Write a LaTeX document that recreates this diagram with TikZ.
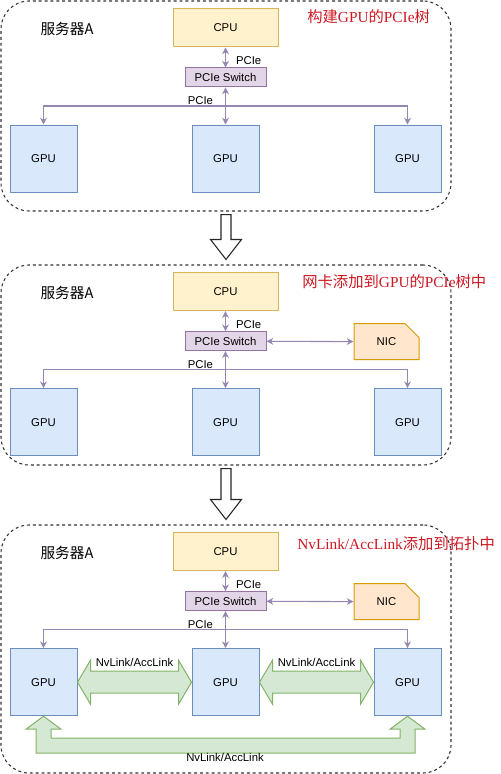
\documentclass[tikz,border=0pt]{standalone}
\usepackage{fontspec}
\setmainfont{Liberation Sans}
\newfontfamily\cjk{Noto Sans CJK SC}
\newfontfamily\titleserif{Liberation Serif}
\usetikzlibrary{positioning, calc, shapes.misc, arrows.meta}

\definecolor{cpufill}{HTML}{FFF2CC}
\definecolor{cpuline}{HTML}{D6B656}
\definecolor{swfill}{HTML}{E1D5E7}
\definecolor{swline}{HTML}{9673A6}
\definecolor{gpufill}{HTML}{DAE8FC}
\definecolor{gpuline}{HTML}{6C8EBF}
\definecolor{nicfill}{HTML}{FFE6CC}
\definecolor{nicline}{HTML}{D79B00}
\definecolor{nvfill}{HTML}{D5E8D4}
\definecolor{nvline}{HTML}{82B366}
\definecolor{linkcol}{RGB}{150,134,178}
\definecolor{titlered}{RGB}{205,25,35}

\newcommand{\zh}[1]{{\cjk #1}}

\tikzset{
    panel/.style={draw=black!80, line width=0.8pt, dash pattern=on 2.2pt off 2.2pt, rounded corners=21pt, minimum width=337.5pt, inner sep=0}, % dashed server frame
    box/.style={draw, line width=0.75pt, inner sep=0},
    cpu/.style={box, draw=cpuline, fill=cpufill, minimum width=78.75pt, minimum height=28.5pt},
    pswitch/.style={box, draw=swline, fill=swfill, minimum width=60.75pt, minimum height=14.25pt},
    gpu/.style={box, draw=gpuline, fill=gpufill, minimum size=50.25pt},
    nic/.style={box, chamfered rectangle, chamfered rectangle corners=north east, chamfered rectangle xsep=11pt, chamfered rectangle ysep=10pt, draw=nicline, fill=nicfill, minimum width=48.75pt, minimum height=27pt},
    link/.style={draw=linkcol, line width=0.8pt, {Stealth[length=5pt, width=5pt, inset=1.5pt]}-{Stealth[length=5pt, width=5pt, inset=1.5pt]}}, % PCIe both ways
    branch/.style={link, -{Stealth[length=5pt, width=5pt, inset=1.5pt]}},
    fatarrow/.style={draw=nvline, fill=nvfill, line width=0.75pt},
    hollow/.style={draw=black!85, fill=white, line width=0.8pt},
    title/.style={text=titlered, font=\fontsize{11.5}{14}\selectfont, anchor=west, inner sep=0},
    server/.style={font=\cjk\fontsize{11}{13}\selectfont, inner sep=0},
    lbl/.style={inner sep=0},
}

\begin{document}
\begin{tikzpicture}[x=0.75pt, y=-0.75pt, font=\fontsize{8.5}{10}\selectfont]
\useasboundingbox (0,0) rectangle (500,774);

% server frames
\node[panel, minimum height=157.5pt] (p1) at (226,106) {};
\node[panel, minimum height=150pt] (p2) at (226,365) {};
\node[panel, minimum height=186pt] (p3) at (226,649) {};

% step arrows
\draw[hollow] ($(p1.south)+(-5,3)$) -- ($(p2.north)+(-5,-25)$) -- ++(-10.5,0) -- ($(p2.north)+(0,-5)$)
    -- ($(p2.north)+(15.5,-25)$) -- ++(-10.5,0) -- ($(p1.south)+(5,3)$) -- cycle;
\draw[hollow] ($(p2.south)+(-5,3)$) -- ($(p3.north)+(-5,-25)$) -- ++(-10.5,0) -- ($(p3.north)+(0,-5)$)
    -- ($(p3.north)+(15.5,-25)$) -- ++(-10.5,0) -- ($(p2.south)+(5,3)$) -- cycle;

% step 1
\node[title] (t1) at (307,17) {\zh{构建}{\titleserif GPU}\zh{的}{\titleserif PCIe}\zh{树}};
\node[server] (s1) at (67,29) {服务器A};
\node[cpu] (cpu1) at (225.5,28) {CPU};
\node[pswitch] (sw1) at (225.5,77.5) {PCIe Switch};
\node[gpu] (gpu1l) at (43.5,158.5) {GPU};
\node[gpu] (gpu1m) at (225.5,158.5) {GPU};
\node[gpu] (gpu1r) at (407.5,158.5) {GPU};
\coordinate (bus1) at (225.5,106);

\draw[link] (cpu1) -- node[lbl, pos=0.67, right=7.5pt] {PCIe} (sw1);
\draw[link] (sw1) -- node[lbl, pos=0.36, left=9pt] {PCIe} (gpu1m);
\draw[branch] (bus1) -| (gpu1l);
\draw[branch] (bus1) -| (gpu1r);

% step 2
\begin{scope}[shift={(0,263.7)}]
\node[title] (t2) at (302,18.3) {\zh{网卡添加到}{\titleserif GPU}\zh{的}{\titleserif PCIe}\zh{树中}};
\node[server] (s2) at (67,29.5) {服务器A};
\node[cpu] (cpu2) at (225.5,28) {CPU};
\node[pswitch] (sw2) at (225.5,77.5) {PCIe Switch};
\node[nic] (nic2) at (386.5,78) {NIC};
\node[gpu] (gpu2l) at (43.5,158.5) {GPU};
\node[gpu] (gpu2m) at (225.5,158.5) {GPU};
\node[gpu] (gpu2r) at (407.5,158.5) {GPU};
\coordinate (bus2) at (225.5,106);

\draw[link] (cpu2) -- node[lbl, pos=0.67, right=7.5pt] {PCIe} (sw2);
\draw[link] (sw2) -- node[lbl, pos=0.36, left=9pt] {PCIe} (gpu2m);
\draw[link] (sw2) -- (nic2);
\draw[branch] (bus2) -| (gpu2l);
\draw[branch] (bus2) -| (gpu2r);
\end{scope}

% step 3
\begin{scope}[shift={(0,523.7)}]
\node[title] (t3) at (297,20.3) {{\titleserif NvLink/AccLink}\zh{添加到拓扑中}};
\node[server] (s3) at (67,29.5) {服务器A};
\node[cpu] (cpu3) at (225.5,28) {CPU};
\node[pswitch] (sw3) at (225.5,77.5) {PCIe Switch};
\node[nic] (nic3) at (386.5,78) {NIC};
\node[gpu] (gpu3l) at (43.5,158.5) {GPU};
\node[gpu] (gpu3m) at (225.5,158.5) {GPU};
\node[gpu] (gpu3r) at (407.5,158.5) {GPU};
\coordinate (bus3) at (225.5,106);

\draw[link] (cpu3) -- node[lbl, pos=0.67, right=7.5pt] {PCIe} (sw3);
\draw[link] (sw3) -- node[lbl, pos=0.36, left=9pt] {PCIe} (gpu3m);
\draw[link] (sw3) -- (nic3);
\draw[branch] (bus3) -| (gpu3l);
\draw[branch] (bus3) -| (gpu3r);

% NvLink between neighbours
\draw[fatarrow] (gpu3l.east) -- ++(13,-22) -- ++(0,11) -- ($(gpu3m.west)+(-13,-11)$) -- ++(0,-11) -- (gpu3m.west)
    -- ++(-13,22) -- ++(0,-11) -- ($(gpu3l.east)+(13,11)$) -- ++(0,11) -- cycle;
\draw[fatarrow] (gpu3m.east) -- ++(13,-22) -- ++(0,11) -- ($(gpu3r.west)+(-13,-11)$) -- ++(0,-11) -- (gpu3r.west)
    -- ++(-13,22) -- ++(0,-11) -- ($(gpu3m.east)+(13,11)$) -- ++(0,11) -- cycle;
\node[lbl] (nv1) at ($(gpu3l.east)!0.5!(gpu3m.west)+(0,-19.5)$) {NvLink/AccLink};
\node[lbl] (nv2) at ($(gpu3m.east)!0.5!(gpu3r.west)+(0,-19.5)$) {NvLink/AccLink};

% NvLink round the bottom
\draw[fatarrow] (gpu3l.south) -- ++(17.5,13) -- ++(-10,0) -- ++(0,9) -- ($(gpu3r.south)+(-7.5,22)$) -- ++(0,-9) -- ++(-10,0)
    -- (gpu3r.south) -- ++(17.5,13) -- ++(-10,0) -- ++(0,24) -- ($(gpu3l.south)+(-7.5,37)$) -- ++(0,-24) -- ++(-10,0) -- cycle;
\node[lbl] (nv3) at (225,234) {NvLink/AccLink};
\end{scope}

\end{tikzpicture}
\end{document}
